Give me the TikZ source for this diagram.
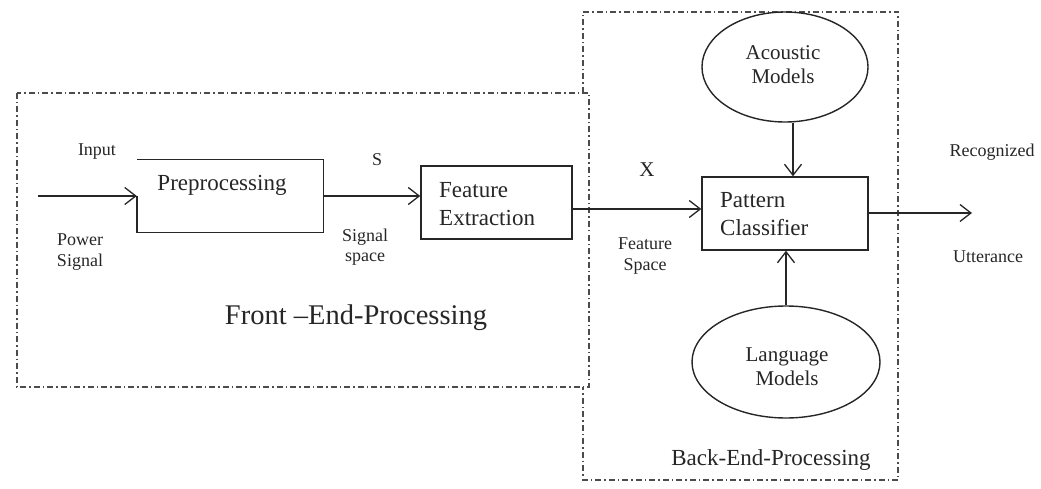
\documentclass[tikz,border=0pt]{standalone}
\usepackage{fontspec}
\setmainfont{Liberation Serif}
\usetikzlibrary{arrows.meta,shapes.geometric}
\begin{document}
\begin{tikzpicture}[x=1pt,y=-1pt,
  ln/.style={line width=1.4pt, draw=black!85},
  arr/.style={ln, -{Straight Barb[length=11pt,width=17pt,line width=1.3pt]}},
  frame/.style={line width=1.1pt, draw=black!70, dash pattern=on 6pt off 3pt on 1.5pt off 3pt},
  box/.style={ln, rectangle, inner sep=0pt},
  ell/.style={ln, ellipse, inner sep=0pt},
  big/.style={font=\fontsize{23}{27.5}\selectfont, text=black!85, inner sep=0pt, align=left},
  mid/.style={font=\fontsize{21}{24}\selectfont, text=black!85, inner sep=0pt, align=center},
  small/.style={font=\fontsize{18}{20.5}\selectfont, text=black!85, inner sep=0pt, align=center},
  title/.style={font=\fontsize{23}{27}\selectfont, text=black!85, inner sep=0pt}
]
\useasboundingbox (0,0) rectangle (1041,489);
% processing frames
\draw[frame] (17,93) rectangle (589,387);
\draw[frame] (583,93) -- (583,12) -- (898,12) -- (898,480) -- (583,480) -- (583,387);

% blocks
\node[rectangle, inner sep=0pt, minimum width=186pt, minimum height=72pt] (pre) at (230,196) {};
\draw[ln] (pre.west) -- (pre.south west) -- (pre.south east) -- (pre.north east) -- (pre.north west);
\node[big] (pretext) at (222,185) {Preprocessing};

\node[box, draw, minimum width=151pt, minimum height=73pt] (fe) at (496.5,202.5) {};
\node[big, anchor=west] (fetext) at (439,204) {Feature\\Extraction};

\node[box, draw, minimum width=166pt, minimum height=73pt] (pc) at (785,213.5) {};
\node[big, anchor=west] (pctext) at (720,214) {Pattern\\Classifier};

\node[ell, draw, minimum width=166pt, minimum height=110pt] (ac) at (785,67) {};
\node[mid] (actext) at (783,65) {Acoustic\\Models};

\node[ell, draw, minimum width=188pt, minimum height=112pt] (lm) at (786,362) {};
\node[mid] (lmtext) at (787,367) {Language\\Models};

% connectors
\coordinate (in) at (38,196);
\coordinate (out) at (972,213);
\draw[arr] (in) -- (pre.west);
\draw[arr] (pre.east) -- (pre.east -| fe.west);
\draw[arr] ([yshift=-6.5pt]fe.east) -- ([yshift=-6.5pt]fe.east -| pc.west);
\draw[arr] (pc.east |- out) -- (out);
\draw[arr] ([xshift=8pt]ac.south) -- ([xshift=8pt]pc.north);
\draw[arr] (lm.north) -- (lm.north |- pc.south);

% labels
\node[small] (inputlbl) at (97,152) {Input};
\node[small] (powerlbl) at (80,252) {Power\\Signal};
\node[small] (slbl) at (377,160) {S};
\node[small] (siglbl) at (365,247) {Signal\\space};
\node[mid] (xlbl) at (647,170) {X};
\node[small] (fslbl) at (645,256) {Feature\\Space};
\node[small] (reclbl) at (992,152) {Recognized};
\node[small] (uttlbl) at (988,257) {Utterance};
\node[font=\fontsize{28.5}{32}\selectfont, text=black!85, inner sep=0pt] (fep) at (356,318) {Front –End-Processing};
\node[title] (bep) at (771,460) {Back-End-Processing};
\end{tikzpicture}
\end{document}
